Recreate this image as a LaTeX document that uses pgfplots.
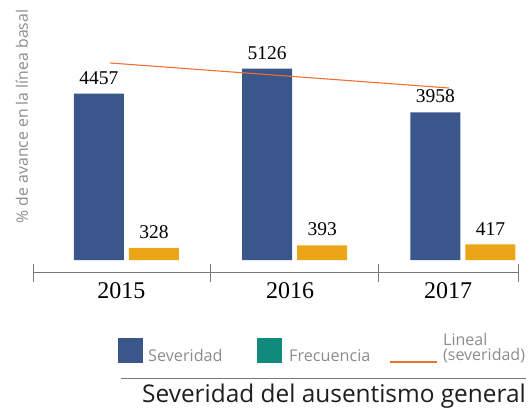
\documentclass[border=0pt]{standalone}
\usepackage{pgfplots}
\pgfplotsset{compat=1.18}
\usepackage{fontspec}
\setmainfont{Liberation Serif}
\newfontfamily\sans{Open Sans}
\definecolor{sevblue}{RGB}{58,86,138}
\definecolor{freqorange}{RGB}{236,165,22}
\definecolor{freqteal}{RGB}{15,138,125}
\definecolor{trendorange}{RGB}{238,112,45}
\definecolor{axisgray}{RGB}{120,120,120}
\definecolor{labgray}{RGB}{140,140,140}
\definecolor{titleblack}{RGB}{30,30,30}
\begin{document}
\begin{tikzpicture}[x=1pt,y=1pt]
\path[use as bounding box] (0,0) rectangle (531,414);
\begin{axis}[
  at={(33pt,141pt)}, anchor=south west, scale only axis,
  width=485pt, height=273pt,
  xmin=-0.5557, xmax=2.327, ymin=-348, ymax=6968,
  axis x line=bottom, axis y line=none,
  x axis line style={-, draw=axisgray, line width=1pt},
  xtick={-0.5557,0.5,1.5,2.327}, xticklabels={},
  tick align=center, major tick length=18pt,
  xtick style={draw=axisgray, line width=1pt},
  extra x ticks={-0.03,0.972,1.911},
  extra x tick labels={2015,2016,2017},
  extra x tick style={major tick length=0pt},
  xticklabel style={font=\fontsize{24}{24}\selectfont, inner sep=0pt, anchor=north, yshift=-9pt, text=black},
  /pgf/number format/.cd, 1000 sep={}, assume math mode=true,
  /pgfplots/.cd,
  clip=false,
]
\addplot[ybar, bar width=50pt, bar shift=-27.5pt, fill=sevblue, draw=none,
  nodes near coords, nodes near coords style={font=\fontsize{19.5}{20}\selectfont, anchor=south, inner sep=0pt, xshift=-27.5pt, yshift=9pt, text=black}]
  coordinates {(0,4457) (1,5126) (2,3958)};
\addplot[ybar, bar width=50pt, bar shift=27.5pt, fill=freqorange, draw=none,
  nodes near coords, nodes near coords style={font=\fontsize{19.5}{20}\selectfont, anchor=south, inner sep=0pt, xshift=27.5pt, yshift=9pt, text=black}]
  coordinates {(0,328) (1,393) (2,417)};
\addplot[sharp plot, trendorange, line width=1.1pt, no markers]
  coordinates {(-0.098,5280) (1.917,4610)};
\end{axis}
% y label
\node[rotate=90, text=labgray, font=\sans\fontsize{15.8}{15.8}\selectfont] at (22,297.5) {\% de avance en la línea basal};
% legend
\fill[sevblue] (118,51) rectangle (143,76);
\node[anchor=base west, inner sep=0pt, text=labgray, font=\sans\fontsize{16.2}{16.2}\selectfont] at (148,52) {Severidad};
\fill[freqteal] (257,51) rectangle (282,76);
\node[anchor=base west, inner sep=0pt, text=labgray, font=\sans\fontsize{16.2}{16.2}\selectfont] at (289,52) {Frecuencia};
\draw[trendorange, line width=1.3pt] (390,52) -- (437,52);
\node[anchor=base west, inner sep=0pt, text=labgray, font=\sans\fontsize{16}{16}\selectfont] at (443,68) {Lineal};
\node[anchor=base west, inner sep=0pt, text=labgray, font=\sans\fontsize{16}{16}\selectfont] at (443,53) {(severidad)};
\draw[axisgray, line width=1pt] (121,35) -- (526,35);
\node[anchor=base east, inner sep=0pt, text=titleblack, font=\sans\fontsize{24.4}{24.4}\selectfont] at (526,11) {Severidad del ausentismo general};
\end{tikzpicture}
\end{document}
